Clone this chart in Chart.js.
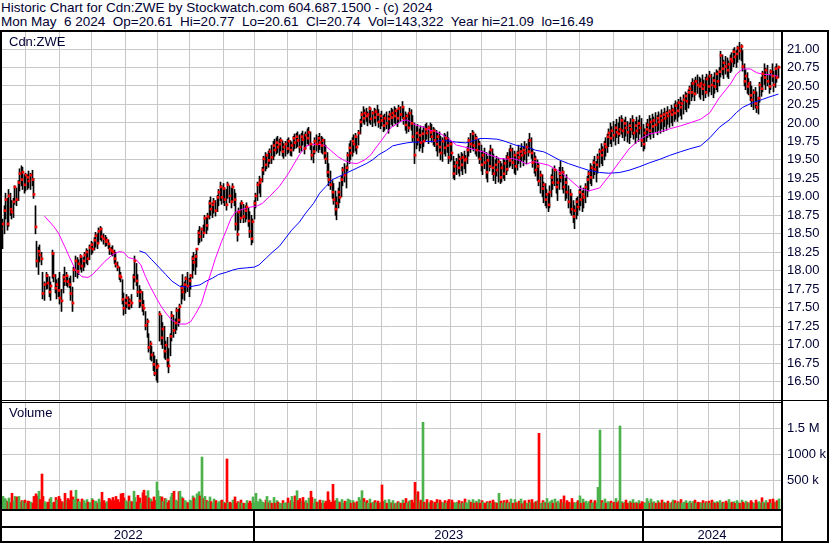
<!DOCTYPE html>
<html>
<head>
<meta charset="utf-8">
<script src="https://cdn.jsdelivr.net/npm/chart.js"></script>
<style>
  body { margin: 0; background: #fff; }
  #wrap { position: relative; width: 830px; height: 543px; overflow: hidden; font-family: 'Liberation Sans', Arial, sans-serif; color: #000033; }
  .t { position: absolute; white-space: pre; line-height: normal; }
  .k { position: absolute; background: #000; z-index: 5; }
  canvas { position: absolute; }
</style>
</head>
<body>
<div id="wrap">
  <div class="t" style="left:1px;top:0px;font-size:13.5px">Historic Chart for Cdn:ZWE by Stockwatch.com 604.687.1500 - (c) 2024</div>
  <div class="t" style="left:1px;top:14px;font-size:13.5px">Mon May  6 2024  Op=20.61  Hi=20.77  Lo=20.61  Cl=20.74  Vol=143,322  Year hi=21.09  lo=16.49</div>

  <canvas id="price" width="825" height="368" style="left:2px;top:32px"></canvas>
  <canvas id="volume" width="825" height="138" style="left:2px;top:403px"></canvas>

  <div class="t" style="left:9px;top:34px;font-size:13px;z-index:6">Cdn:ZWE</div>
  <div class="t" style="left:9px;top:405px;font-size:13px;z-index:6">Volume</div>

  <!-- frame -->
  <div class="k" style="left:0;top:30px;width:829px;height:2px"></div>
  <div class="k" style="left:0;top:30px;width:2px;height:513px"></div>
  <div class="k" style="left:827px;top:30px;width:2px;height:513px"></div>
  <div class="k" style="left:781px;top:30px;width:2px;height:513px"></div>
  <div class="k" style="left:0;top:541px;width:829px;height:2px"></div>
  <div class="k" style="left:0;top:400px;width:829px;height:1px"></div>
  <div class="k" style="left:0;top:402px;width:781px;height:1px"></div>
  <div class="k" style="left:0;top:509px;width:781px;height:2px"></div>
  <div class="k" style="left:0;top:526px;width:781px;height:2px"></div>
</div>
<script>
// daily bars, May 9 2022 .. May 6 2024 (index = trading day)
const hiP = [
  18.75,18.70,18.88,19.05,18.98,19.10,19.05,18.95,18.98,19.15, 19.12,19.22,19.38,19.42,19.40,19.30,19.32,19.30,19.35,19.32,
  19.36,19.25,18.88,18.40,18.32,18.35,18.25,17.98,17.85,17.98, 17.95,17.92,17.85,18.28,18.25,17.95,17.88,17.90,17.98,17.75,
  17.95,18.05,17.98,17.93,17.90,17.93,17.78,18.05,18.20,18.18, 18.15,18.22,18.20,18.18,18.25,18.30,18.28,18.35,18.40,18.38,
  18.45,18.52,18.50,18.58,18.60,18.58,18.50,18.48,18.45,18.42, 18.35,18.32,18.34,18.28,18.25,18.12,18.05,17.98,17.88,17.70,
  17.62,17.68,17.65,17.62,17.68,17.95,18.20,18.10,17.95,17.80, 17.75,17.72,17.60,17.45,17.35,17.15,17.05,16.98,16.90,16.85,
  16.80,16.75,17.45,17.40,17.30,17.25,17.05,17.10,16.95,17.15, 17.45,17.40,17.35,17.50,17.48,17.55,17.80,17.95,17.85,17.92,
  17.98,17.90,17.95,18.20,18.25,18.22,18.30,18.55,18.60,18.58, 18.62,18.75,18.72,18.78,18.95,19.00,18.92,18.98,18.95,19.02,
  19.10,19.20,19.15,19.18,19.12,19.10,19.20,19.15,19.12,19.18, 19.10,19.05,18.80,18.85,18.92,18.95,18.90,18.88,18.92,18.85,
  18.80,18.75,18.70,18.95,19.05,19.20,19.28,19.25,19.40,19.55, 19.60,19.58,19.62,19.65,19.70,19.75,19.78,19.80,19.82,19.78,
  19.80,19.76,19.72,19.75,19.78,19.80,19.76,19.74,19.82,19.85, 19.86,19.88,19.84,19.86,19.89,19.85,19.88,19.92,19.94,19.88,
  19.72,19.68,19.80,19.84,19.82,19.86,19.82,19.80,19.78,19.70, 19.60,19.45,19.35,19.22,19.18,19.08,19.00,19.12,19.20,19.28,
  19.40,19.45,19.42,19.60,19.72,19.76,19.80,19.84,19.86,19.82, 19.90,20.05,20.15,20.22,20.18,20.20,20.15,20.22,20.20,20.16,
  20.20,20.18,20.24,20.18,20.12,20.16,20.10,20.12,20.15,20.10, 20.16,20.20,20.18,20.22,20.20,20.18,20.24,20.22,20.29,20.22,
  20.15,20.12,20.14,20.20,20.18,20.10,20.00,19.95,19.98,19.92, 19.96,19.90,19.95,19.98,20.00,19.96,20.00,19.98,19.94,19.92,
  19.90,19.86,19.88,19.82,19.80,19.86,19.84,19.88,19.80,19.76, 19.75,19.55,19.48,19.52,19.58,19.55,19.60,19.58,19.62,19.56,
  19.68,19.80,19.86,19.90,19.88,19.85,19.82,19.78,19.75,19.70, 19.62,19.66,19.60,19.55,19.62,19.70,19.65,19.58,19.50,19.55,
  19.52,19.48,19.45,19.52,19.50,19.56,19.60,19.65,19.70,19.66, 19.62,19.58,19.62,19.70,19.66,19.72,19.68,19.75,19.72,19.78,
  19.86,19.80,19.65,19.60,19.55,19.50,19.45,19.35,19.30,19.20, 19.18,19.10,19.05,19.15,19.30,19.38,19.42,19.35,19.25,19.40,
  19.48,19.40,19.35,19.25,19.30,19.15,19.10,19.05,18.95,18.88, 18.98,19.00,19.10,19.15,19.08,19.12,19.18,19.28,19.35,19.45,
  19.42,19.50,19.55,19.48,19.58,19.65,19.72,19.68,19.75,19.80, 19.85,19.92,20.00,19.95,20.02,19.98,20.05,20.00,20.08,20.10,
  20.06,20.04,20.08,20.02,20.00,20.06,20.10,20.05,20.02,20.08, 20.04,20.10,20.06,19.98,19.92,20.00,20.05,20.10,20.06,20.12,
  20.08,20.14,20.10,20.15,20.12,20.18,20.14,20.20,20.16,20.22, 20.18,20.24,20.20,20.26,20.30,20.28,20.32,20.35,20.30,20.38,
  20.42,20.40,20.45,20.50,20.55,20.60,20.58,20.62,20.65,20.62, 20.60,20.65,20.58,20.62,20.66,20.64,20.70,20.66,20.62,20.68,
  20.72,20.70,20.75,20.97,20.92,20.85,20.90,20.88,20.84,20.92, 20.95,21.00,21.02,20.98,21.04,21.09,21.06,20.98,20.80,20.72,
  20.68,20.60,20.56,20.50,20.45,20.48,20.42,20.35,20.55,20.62, 20.70,20.80,20.74,20.78,20.65,20.72,20.80,20.70,20.76,20.80,
  20.77
];
const loP = [
  18.40,18.30,18.50,18.70,18.55,18.60,18.75,18.70,18.72,18.90, 18.88,18.95,19.08,19.15,19.10,19.05,19.08,19.10,19.12,19.10,
  19.15,18.98,18.50,18.05,17.95,18.12,18.08,17.62,17.60,17.75, 17.76,17.65,17.60,17.90,17.85,17.70,17.62,17.65,17.55,17.45,
  17.70,17.80,17.80,17.78,17.77,17.60,17.45,17.85,17.92,17.90, 17.95,18.02,17.98,18.00,18.05,18.10,18.08,18.15,18.22,18.24,
  18.28,18.32,18.30,18.38,18.42,18.40,18.36,18.33,18.34,18.30, 18.22,18.22,18.20,18.10,18.05,18.00,17.88,17.85,17.55,17.40,
  17.42,17.50,17.48,17.48,17.50,17.75,17.85,17.80,17.65,17.50, 17.52,17.45,17.40,17.20,17.10,16.90,16.80,16.78,16.65,16.58,
  16.52,16.49,17.05,17.00,16.95,16.82,16.80,16.70,16.62,16.85, 17.05,17.10,17.15,17.20,17.25,17.30,17.55,17.62,17.60,17.70,
  17.72,17.65,17.75,17.90,18.00,17.95,18.05,18.35,18.38,18.40, 18.45,18.52,18.50,18.55,18.70,18.75,18.72,18.78,18.74,18.80,
  18.88,18.95,18.90,18.92,18.88,18.82,18.98,18.92,18.85,18.95, 18.88,18.55,18.40,18.55,18.65,18.72,18.65,18.66,18.70,18.60,
  18.45,18.35,18.38,18.70,18.85,18.95,19.05,19.00,19.20,19.30, 19.35,19.38,19.40,19.45,19.45,19.50,19.55,19.58,19.60,19.56,
  19.62,19.55,19.52,19.55,19.58,19.60,19.56,19.55,19.62,19.65, 19.66,19.68,19.60,19.62,19.70,19.58,19.65,19.72,19.70,19.64,
  19.50,19.46,19.58,19.62,19.60,19.64,19.60,19.58,19.52,19.45, 19.27,19.15,19.10,18.98,18.90,18.75,18.69,18.85,18.92,19.00,
  19.15,19.20,19.12,19.35,19.45,19.50,19.55,19.60,19.62,19.58, 19.70,19.85,19.95,20.00,19.98,20.02,19.96,20.00,19.98,19.95,
  20.00,19.96,20.02,19.94,19.92,19.96,19.88,19.90,19.92,19.86, 19.92,19.98,19.95,20.00,19.98,19.95,20.00,20.02,20.06,19.98,
  19.90,19.86,19.88,19.95,19.90,19.75,19.45,19.65,19.70,19.62, 19.66,19.60,19.68,19.75,19.78,19.72,19.80,19.74,19.70,19.68,
  19.62,19.55,19.60,19.50,19.48,19.58,19.55,19.60,19.45,19.48, 19.50,19.25,19.23,19.30,19.32,19.28,19.35,19.30,19.38,19.32,
  19.45,19.55,19.60,19.65,19.62,19.58,19.55,19.52,19.45,19.35, 19.30,19.38,19.25,19.20,19.35,19.40,19.30,19.22,19.18,19.28,
  19.20,19.18,19.20,19.25,19.22,19.30,19.35,19.40,19.42,19.38, 19.32,19.30,19.36,19.45,19.40,19.48,19.42,19.50,19.45,19.55,
  19.60,19.52,19.40,19.32,19.28,19.22,19.15,19.05,19.00,18.92, 18.88,18.85,18.80,18.85,19.00,19.10,19.15,19.05,18.95,19.10,
  19.20,19.10,19.05,18.95,18.98,18.85,18.78,18.75,18.65,18.57, 18.70,18.75,18.82,18.88,18.80,18.85,18.92,19.00,19.08,19.18,
  19.15,19.25,19.30,19.20,19.32,19.40,19.45,19.42,19.50,19.55, 19.60,19.68,19.72,19.68,19.75,19.70,19.80,19.72,19.82,19.85,
  19.80,19.76,19.82,19.74,19.72,19.80,19.84,19.78,19.72,19.80, 19.75,19.85,19.68,19.62,19.65,19.75,19.80,19.82,19.78,19.85,
  19.80,19.88,19.84,19.90,19.86,19.92,19.88,19.95,19.90,19.98, 19.94,20.00,19.96,20.02,20.05,20.02,20.08,20.10,20.05,20.12,
  20.18,20.15,20.20,20.25,20.30,20.35,20.30,20.38,20.40,20.35, 20.32,20.38,20.30,20.34,20.40,20.36,20.42,20.38,20.34,20.40,
  20.45,20.42,20.50,20.62,20.65,20.60,20.66,20.62,20.60,20.68, 20.70,20.76,20.80,20.75,20.82,20.86,20.84,20.70,20.50,20.45,
  20.40,20.38,20.30,20.22,20.18,20.20,20.14,20.12,20.28,20.36, 20.42,20.52,20.45,20.50,20.40,20.45,20.56,20.42,20.48,20.55,
  20.61
];
const clP = [
  18.55,18.62,18.80,18.95,18.62,19.00,18.82,18.78,18.92,19.12, 18.95,19.18,19.30,19.22,19.32,19.15,19.28,19.25,19.20,19.28,
  19.22,19.02,18.58,18.12,18.25,18.20,18.15,17.68,17.80,17.92, 17.82,17.70,17.78,18.22,17.92,17.75,17.80,17.72,17.62,17.58,
  17.90,17.85,17.92,17.84,17.80,17.68,17.55,18.00,18.12,17.98, 18.08,18.18,18.05,18.12,18.20,18.24,18.15,18.30,18.34,18.28,
  18.40,18.46,18.36,18.52,18.55,18.45,18.42,18.38,18.40,18.35, 18.28,18.26,18.24,18.15,18.08,18.04,17.92,17.90,17.60,17.48,
  17.55,17.62,17.52,17.58,17.55,17.90,18.12,17.85,17.70,17.58, 17.70,17.52,17.48,17.25,17.30,16.95,17.00,16.85,16.72,16.60,
  16.68,16.70,17.40,17.08,17.20,16.90,16.98,16.78,16.70,17.10, 17.38,17.18,17.28,17.45,17.32,17.50,17.75,17.70,17.80,17.88,
  17.78,17.85,17.92,18.15,18.10,18.18,18.28,18.50,18.45,18.55, 18.50,18.70,18.60,18.72,18.90,18.82,18.88,18.92,18.80,18.98,
  19.05,19.12,18.98,19.10,18.95,18.88,19.15,19.00,18.92,19.12, 18.95,18.62,18.48,18.78,18.70,18.90,18.72,18.80,18.85,18.66,
  18.52,18.42,18.65,18.90,19.00,19.15,19.18,19.22,19.35,19.50, 19.42,19.55,19.48,19.60,19.52,19.68,19.62,19.72,19.66,19.70,
  19.75,19.60,19.66,19.70,19.64,19.74,19.62,19.68,19.78,19.72, 19.80,19.75,19.66,19.80,19.76,19.64,19.82,19.78,19.86,19.70,
  19.55,19.60,19.74,19.70,19.78,19.72,19.68,19.75,19.58,19.50, 19.32,19.22,19.15,19.05,18.95,18.82,18.90,19.05,18.98,19.22,
  19.35,19.28,19.38,19.55,19.65,19.58,19.74,19.70,19.80,19.66, 19.85,20.00,20.10,20.05,20.12,20.08,20.10,20.18,20.04,20.12,
  20.06,20.14,20.10,20.00,20.08,20.02,19.95,20.05,19.98,20.04, 20.10,20.06,20.12,20.08,20.15,20.05,20.18,20.10,20.20,20.05,
  19.96,20.08,19.92,20.12,19.98,19.80,19.55,19.85,19.76,19.82, 19.72,19.84,19.74,19.90,19.85,19.92,19.86,19.80,19.88,19.75,
  19.70,19.80,19.66,19.58,19.74,19.65,19.78,19.68,19.52,19.70, 19.58,19.30,19.40,19.45,19.38,19.50,19.42,19.52,19.48,19.50,
  19.62,19.75,19.70,19.84,19.68,19.78,19.62,19.70,19.50,19.42, 19.55,19.45,19.32,19.48,19.40,19.62,19.38,19.30,19.42,19.35,
  19.46,19.25,19.38,19.30,19.44,19.36,19.52,19.48,19.62,19.45, 19.55,19.40,19.58,19.52,19.60,19.55,19.62,19.58,19.66,19.60,
  19.75,19.58,19.45,19.50,19.35,19.40,19.20,19.28,19.10,19.15, 18.95,19.02,18.88,19.05,19.25,19.18,19.35,19.12,19.18,19.30,
  19.25,19.32,19.12,19.18,19.05,18.92,19.02,18.82,18.72,18.80, 18.92,18.85,19.05,18.95,19.02,18.98,19.12,19.22,19.30,19.25,
  19.38,19.45,19.36,19.42,19.52,19.60,19.55,19.62,19.70,19.66, 19.80,19.85,19.78,19.88,19.82,19.92,19.86,19.84,19.90,20.02,
  19.88,19.98,19.92,19.86,19.95,19.90,20.02,19.85,19.95,19.88, 19.98,19.92,19.75,19.70,19.85,19.90,19.96,19.88,20.00,19.94,
  20.02,19.96,20.05,20.00,20.08,20.02,20.10,20.05,20.12,20.08, 20.14,20.10,20.16,20.12,20.22,20.15,20.26,20.20,20.25,20.30,
  20.35,20.28,20.40,20.45,20.40,20.52,20.38,20.55,20.50,20.48, 20.52,20.45,20.50,20.40,20.58,20.48,20.62,20.50,20.56,20.48,
  20.65,20.55,20.68,20.90,20.72,20.80,20.75,20.70,20.78,20.85, 20.82,20.95,20.88,20.92,21.00,20.96,21.02,20.75,20.55,20.62,
  20.48,20.52,20.36,20.30,20.40,20.25,20.20,20.32,20.50,20.45, 20.65,20.60,20.70,20.55,20.48,20.68,20.62,20.50,20.72,20.60,
  20.74
];
// daily volume, thousands of shares
const volK = [
  130,190,150,120,90,160,70,250,100,190,180,190,80,110,100,120,60,100,95,80,
  60,190,240,200,290,130,621,190,90,60,80,140,170,60,80,170,120,190,140,90,
  70,250,110,150,120,300,180,130,310,140,90,70,140,110,60,130,80,70,150,120,
  90,100,60,140,80,270,110,60,90,150,140,110,170,110,190,130,80,240,250,160,
  110,80,200,100,90,290,170,80,210,160,60,260,310,200,300,160,140,90,180,110,
  467,300,190,180,90,150,140,70,110,180,250,290,120,90,280,290,180,150,110,90,
  70,120,100,200,160,130,240,280,200,948,150,190,110,90,180,90,60,140,110,60,
  90,110,120,80,60,910,70,80,60,120,180,60,90,70,120,60,60,50,110,60,
  100,60,180,70,250,90,140,110,80,60,120,190,70,110,60,170,60,110,80,60,
  50,110,60,70,160,60,110,190,80,200,300,110,150,90,170,80,110,60,160,290,
  170,60,140,80,90,120,60,110,60,100,280,120,80,423,100,110,150,90,70,130,
  60,100,80,140,120,60,110,70,60,90,170,120,300,150,80,110,60,140,60,80,
  110,70,100,60,80,410,90,120,60,130,80,60,110,50,60,90,70,60,120,60,
  150,60,90,110,120,70,462,217,280,90,120,1615,80,60,130,70,110,100,60,80,
  130,60,120,80,70,110,60,100,130,60,120,70,60,80,110,50,90,60,140,70,
  60,120,80,130,60,100,70,130,60,110,80,60,90,70,100,60,120,80,70,60,
  250,100,60,110,70,120,60,80,140,60,130,70,60,100,140,50,90,110,60,120,
  70,130,60,80,90,110,1404,60,110,80,70,150,60,90,120,60,140,70,100,60,
  130,70,200,60,110,80,60,150,70,60,80,110,200,60,140,70,100,60,90,120,
  60,80,110,60,365,1467,110,70,140,60,90,70,100,60,80,150,70,100,1544,90,
  60,80,120,60,100,70,130,60,80,60,110,50,90,70,60,150,100,60,140,70,
  90,60,110,70,60,120,80,60,70,100,60,80,120,110,60,90,70,130,60,80,
  110,60,70,100,60,90,120,60,80,70,60,110,60,90,70,100,60,120,80,60,
  90,70,110,60,80,60,100,70,130,60,80,90,60,110,70,60,120,80,60,100,
  70,60,110,80,60,120,70,90,60,165,80,60,110,70,130,60,140,80,70,110,
  143
];
// moving averages (day index, price)
const maFastDay = [28,34,37,41,44,48,52,56,59,63,67,72,76,79,82,87,90,93,96,100,103,106,110,115,119,122,125,129,132,135,138,142,145,148,151,158,165,168,173,179,185,192,196,199,204,208,212,217,221,225,229,234,238,241,245,248,251,255,258,261,263,267,271,276,280,284,289,293,297,301,306,310,314,321,325,329,334,338,342,346,352,359,365,372,378,385,391,398,404,411,417,424,430,437,443,450,456,462,469,473,477,482,486,490,495,500];
const maFastVal = [18.74,18.60,18.51,18.33,18.19,18.01,17.92,17.91,17.95,18.04,18.13,18.22,18.26,18.25,18.18,18.15,18.08,17.92,17.79,17.63,17.52,17.43,17.33,17.28,17.28,17.31,17.41,17.56,17.77,17.97,18.17,18.40,18.55,18.71,18.80,18.85,18.88,18.91,19.01,19.14,19.32,19.57,19.68,19.71,19.71,19.70,19.63,19.54,19.49,19.46,19.45,19.50,19.57,19.66,19.77,19.86,19.94,19.99,20.03,20.04,20.02,19.97,19.95,19.90,19.88,19.84,19.77,19.70,19.68,19.66,19.63,19.61,19.57,19.52,19.51,19.52,19.49,19.44,19.48,19.46,19.43,19.35,19.25,19.12,19.08,19.12,19.28,19.48,19.65,19.78,19.85,19.88,19.92,19.96,20.00,20.05,20.14,20.34,20.52,20.66,20.73,20.73,20.68,20.66,20.65,20.63];
const maSlowDay = [89,93,97,102,106,110,115,119,123,128,132,136,140,145,149,153,158,163,166,171,175,179,187,192,196,201,205,209,213,218,222,226,231,235,239,243,248,252,256,261,265,269,274,278,282,286,293,299,304,308,312,319,323,327,331,336,340,344,349,352,359,365,372,378,385,391,398,404,411,417,424,430,437,443,450,456,462,469,473,477,483,490,494,500];
const maSlowVal = [18.27,18.24,18.15,18.04,17.95,17.86,17.79,17.78,17.79,17.81,17.86,17.90,17.95,17.98,18.01,18.03,18.04,18.05,18.08,18.18,18.26,18.33,18.55,18.66,18.78,18.91,19.05,19.14,19.23,19.28,19.32,19.36,19.41,19.45,19.50,19.57,19.63,19.69,19.71,19.73,19.74,19.74,19.75,19.75,19.76,19.76,19.74,19.73,19.76,19.79,19.79,19.78,19.76,19.73,19.70,19.68,19.66,19.63,19.61,19.58,19.50,19.45,19.40,19.36,19.33,19.32,19.33,19.36,19.41,19.46,19.51,19.56,19.61,19.65,19.69,19.80,19.94,20.05,20.14,20.21,20.27,20.32,20.35,20.39];

const monthStarts = [16,38,58,80,101,121,143,163,184,203,226,245,267,289,309,331,351,372,394,413,435,455,475,497];
const yearStarts = [163, 413];
const yearLabels = ['2022', '2023', '2024'];
const priceTicks = [16.5,16.75,17,17.25,17.5,17.75,18,18.25,18.5,18.75,19,19.25,19.5,19.75,20,20.25,20.5,20.75,21];
const volTicks = [500000, 1000000, 1500000];
const volLabels = ['500 k', '1000 k', '1.5 M'];

const FONT = "'Liberation Sans', Arial, sans-serif";
const GRID = '#c8c8c8';
const TXT = '#000033';
const X_MIN = 0.7, X_MAX = 501.7;

// keep the thin bars crisp: snap each element to a whole pixel column
const pixelSnap = {
  id: 'pixelSnap',
  beforeDatasetsDraw(chart) {
    chart.getSortedVisibleDatasetMetas().forEach(meta => {
      const snap = chart.data.datasets[meta.index].snap;
      if (!snap) return;
      meta.data.forEach(el => {
        if (el.$ox === undefined) el.$ox = el.x;
        const col = Math.floor(el.$ox);
        if (snap === 'bar1') el.x = col + 0.5;
        else if (snap === 'bar2' || snap === 'mark') el.x = col + 1;
      });
    });
  }
};

const flatAxis = s => { s.paddingTop = 0; s.paddingBottom = 0; s.paddingLeft = 0; s.paddingRight = 0; };

const xAxis = {
  type: 'linear', min: X_MIN, max: X_MAX, offset: false,
  grid: { color: GRID, lineWidth: 1, offset: false, drawTicks: false },
  border: { display: false },
  ticks: { display: false },
  afterBuildTicks: s => { s.ticks = monthStarts.map(v => ({ value: v })); },
  afterFit: s => { s.height = 0; flatAxis(s); }
};

// price panel
new Chart(document.getElementById('price'), {
  type: 'bar',
  data: {
    datasets: [
      {
        // close: small red square at each bar
        type: 'bar', order: 0, snap: 'mark', grouped: false,
        data: clP.map((c, i) => ({ x: i, y: [c, c] })),
        backgroundColor: '#ff0000', barThickness: 2, minBarLength: 2
      },
      {
        type: 'line', order: 1,
        data: maFastDay.map((d, k) => ({ x: d, y: maFastVal[k] })),
        borderColor: '#ff00ff', borderWidth: 1, pointRadius: 0, tension: 0
      },
      {
        type: 'line', order: 2,
        data: maSlowDay.map((d, k) => ({ x: d, y: maSlowVal[k] })),
        borderColor: '#0000ff', borderWidth: 1, pointRadius: 0, tension: 0
      },
      {
        type: 'bar', order: 3, snap: 'bar1', grouped: false,
        data: hiP.map((h, i) => ({ x: i, y: [loP[i], h] })),
        backgroundColor: '#000', barThickness: 1
      }
    ]
  },
  options: {
    responsive: false, animation: false, devicePixelRatio: 1,
    layout: { padding: 0, autoPadding: false },
    plugins: { legend: { display: false }, tooltip: { enabled: false } },
    scales: {
      x: xAxis,
      y: {
        position: 'right', min: 16.2525, max: 21.23,
        grid: { color: GRID, lineWidth: 1, drawTicks: false },
        border: { display: false },
        ticks: { padding: 6, autoSkip: false, color: TXT, font: { family: FONT, size: 13 }, callback: v => v.toFixed(2) },
        afterBuildTicks: s => { s.ticks = priceTicks.map(v => ({ value: v })); },
        afterFit: s => { s.width = 46; flatAxis(s); }
      }
    }
  },
  plugins: [pixelSnap]
});

// volume panel + year row
const VOL_MIN = -51900, VOL_MAX = 1986500;
const yearRow = {
  id: 'yearRow',
  afterDraw(chart) {
    const ctx = chart.ctx, xs = chart.scales.x, a = chart.chartArea;
    const edges = [a.left].concat(yearStarts.map(v => xs.getPixelForValue(v)), [a.right]);
    ctx.save();
    ctx.fillStyle = '#000';
    yearStarts.forEach(v => {
      const px = Math.round(xs.getPixelForValue(v));
      ctx.fillRect(px - 1, a.bottom, 2, chart.height - a.bottom);
    });
    ctx.fillStyle = TXT;
    ctx.font = '13px ' + FONT;
    ctx.textAlign = 'center';
    ctx.textBaseline = 'alphabetic';
    yearLabels.forEach((t, k) => ctx.fillText(t, (edges[k] + edges[k + 1]) / 2, 136));
    ctx.restore();
  }
};

new Chart(document.getElementById('volume'), {
  type: 'bar',
  data: {
    datasets: [{
      snap: 'bar2',
      data: volK.map((v, i) => ({ x: i, y: v * 1000 })),
      base: VOL_MIN,
      backgroundColor: clP.map((c, i) => i === 0 || c < clP[i - 1] ? '#ff0000' : (c > clP[i - 1] ? '#4cb34c' : '#a8a8a8')),
      barThickness: 2
    }]
  },
  options: {
    responsive: false, animation: false, devicePixelRatio: 1,
    layout: { padding: { bottom: 32 }, autoPadding: false },
    plugins: { legend: { display: false }, tooltip: { enabled: false } },
    scales: {
      x: xAxis,
      y: {
        position: 'right', min: VOL_MIN, max: VOL_MAX,
        grid: { color: GRID, lineWidth: 1, drawTicks: false },
        border: { display: false },
        ticks: { padding: 6, autoSkip: false, color: TXT, font: { family: FONT, size: 13 }, callback: (v, i) => volLabels[i] },
        afterBuildTicks: s => { s.ticks = volTicks.map(v => ({ value: v })); },
        afterFit: s => { s.width = 46; flatAxis(s); }
      }
    }
  },
  plugins: [pixelSnap, yearRow]
});
</script>
</body>
</html>
